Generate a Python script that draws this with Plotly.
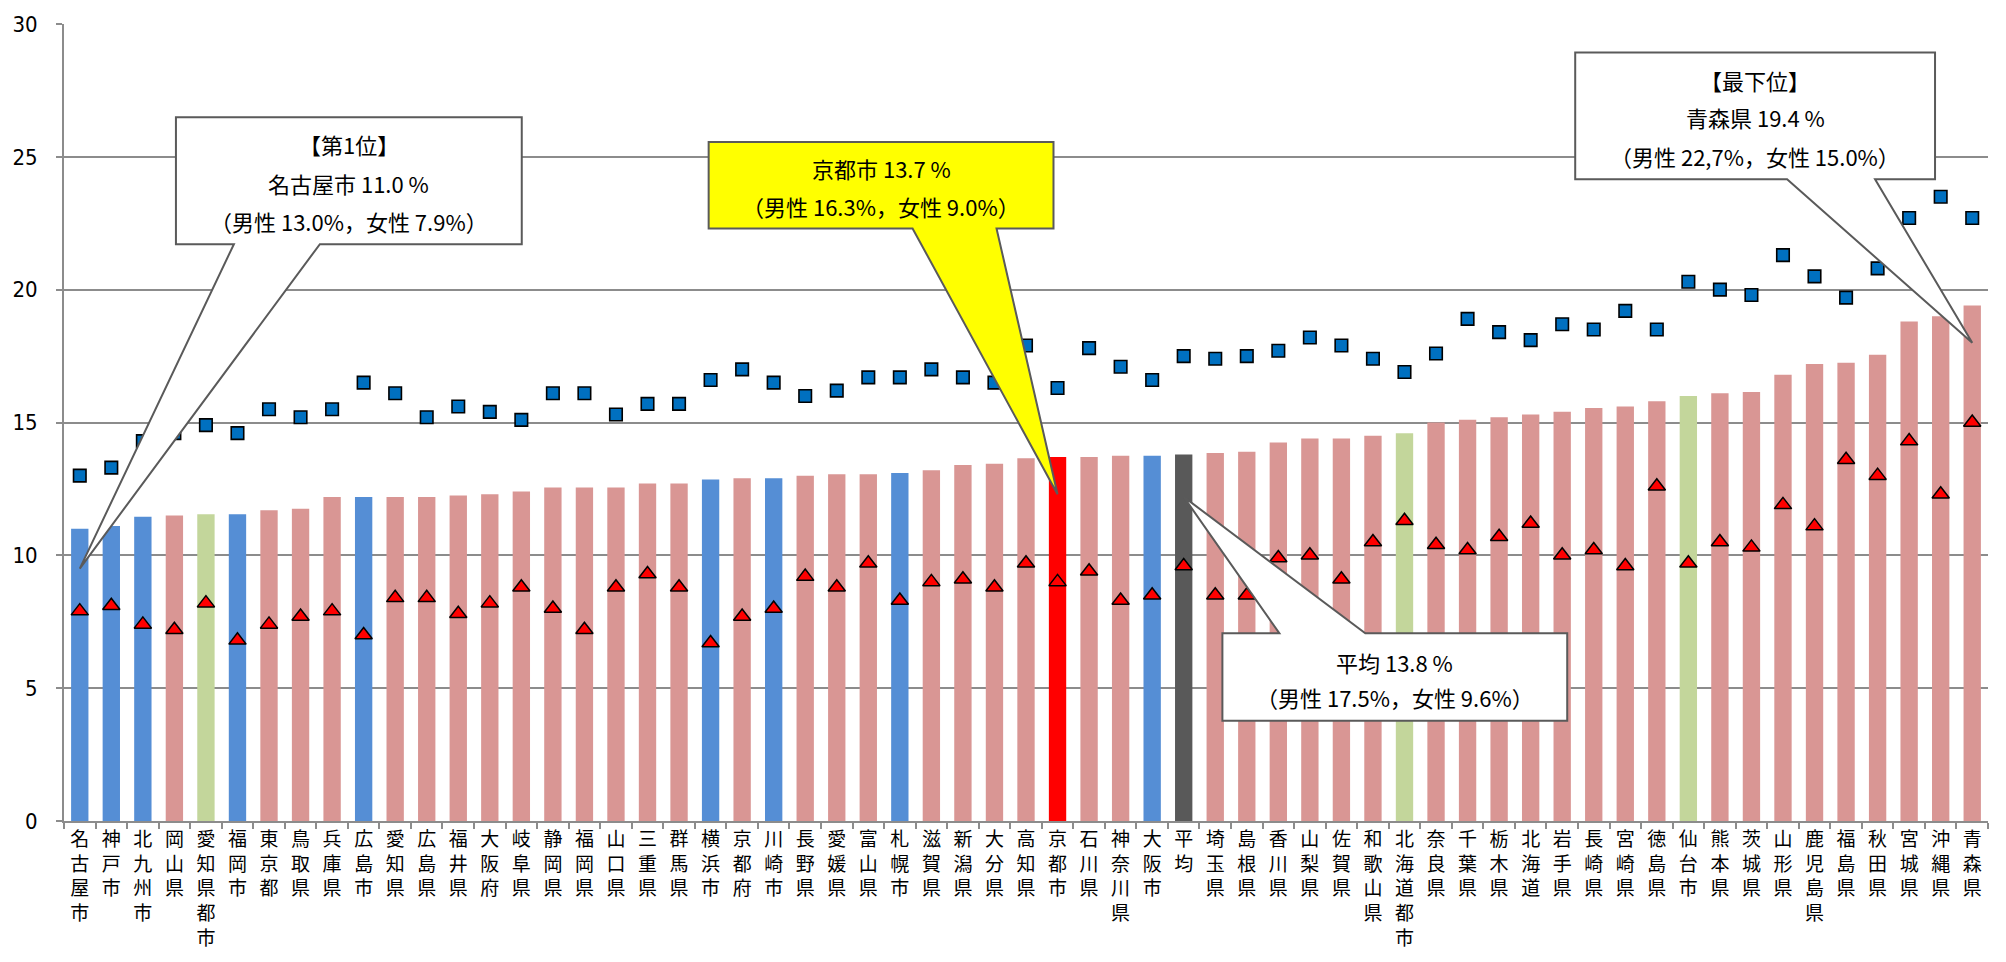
import plotly.graph_objects as go

# ---------------- data ----------------
categories = ["名古屋市","神戸市","北九州市","岡山県","愛知県都市","福岡市","東京都","鳥取県","兵庫県","広島市",
              "愛知県","広島県","福井県","大阪府","岐阜県","静岡県","福岡県","山口県","三重県","群馬県",
              "横浜市","京都府","川崎市","長野県","愛媛県","富山県","札幌市","滋賀県","新潟県","大分県",
              "高知県","京都市","石川県","神奈川県","大阪市","平均","埼玉県","島根県","香川県","山梨県",
              "佐賀県","和歌山県","北海道都市","奈良県","千葉県","栃木県","北海道","岩手県","長崎県","宮崎県",
              "徳島県","仙台市","熊本県","茨城県","山形県","鹿児島県","福島県","秋田県","宮城県","沖縄県","青森県"]

total = [11.0,11.1,11.45,11.5,11.55,11.55,11.7,11.75,12.2,12.2,
         12.2,12.2,12.25,12.3,12.4,12.55,12.55,12.55,12.7,12.7,
         12.85,12.9,12.9,13.0,13.05,13.05,13.1,13.2,13.4,13.45,
         13.65,13.7,13.7,13.75,13.75,13.8,13.85,13.9,14.25,14.4,
         14.4,14.5,14.6,15.0,15.1,15.2,15.3,15.4,15.55,15.6,
         15.8,16.0,16.1,16.15,16.8,17.2,17.25,17.55,18.8,19.0,19.4]

male = [13.0,13.3,14.3,14.6,14.9,14.6,15.5,15.2,15.5,16.5,
        16.1,15.2,15.6,15.4,15.1,16.1,16.1,15.3,15.7,15.7,
        16.6,17.0,16.5,16.0,16.2,16.7,16.7,17.0,16.7,16.5,
        17.9,16.3,17.8,17.1,16.6,17.5,17.4,17.5,17.7,18.2,
        17.9,17.4,16.9,17.6,18.9,18.4,18.1,18.7,18.5,19.2,
        18.5,20.3,20.0,19.8,21.3,20.5,19.7,20.8,22.7,23.5,22.7]

female = [7.9,8.1,7.4,7.2,8.2,6.8,7.4,7.7,7.9,7.0,
          8.4,8.4,7.8,8.2,8.8,8.0,7.2,8.8,9.3,8.8,
          6.7,7.7,8.0,9.2,8.8,9.7,8.3,9.0,9.1,8.8,
          9.7,9.0,9.4,8.3,8.5,9.6,8.5,8.5,9.9,10.0,
          9.1,10.5,11.3,10.4,10.2,10.7,11.2,10.0,10.2,9.6,
          12.6,9.7,10.5,10.3,11.9,11.1,13.6,13.0,14.3,12.3,15.0]

# category grouping: city / metro area / highlighted / average / prefecture
groups = ["city","city","city","pref","metro","city","pref","pref","pref","city",
          "pref","pref","pref","pref","pref","pref","pref","pref","pref","pref",
          "city","pref","city","pref","pref","pref","city","pref","pref","pref",
          "pref","kyoto","pref","pref","city","avg","pref","pref","pref","pref",
          "pref","pref","metro","pref","pref","pref","pref","pref","pref","pref",
          "pref","metro","pref","pref","pref","pref","pref","pref","pref","pref","pref"]

y_ticks = [0, 5, 10, 15, 20, 25, 30]

# ---------------- styling ----------------
group_colors = {"city": "#558ED5", "pref": "#D99694", "metro": "#C3D69B",
                "kyoto": "#FF0000", "avg": "#595959"}
bar_colors = [group_colors[g] for g in groups]
tick_text = ["<br>".join(list(c)) for c in categories]

W_FIG, H_FIG = 2006, 962
L, R, T, B = 63, 1988, 18, 829
YMAX = 30
N = len(categories)
GRID = "#8C8C8C"
JP = "Noto Sans CJK JP, Noto Sans, sans-serif"

fig = go.Figure()
fig.add_trace(go.Bar(x=categories, y=total, marker=dict(color=bar_colors, line=dict(width=0)),
                     hoverinfo="x+y", showlegend=False))
fig.add_trace(go.Scatter(x=categories, y=male, mode="markers", showlegend=False,
                         marker=dict(symbol="square", size=12.5, color="#0070C0",
                                     line=dict(color="#000000", width=1.6))))
fig.add_trace(go.Scatter(x=categories, y=female, mode="markers", showlegend=False,
                         marker=dict(symbol="triangle-up", size=15, color="#FF0000",
                                     line=dict(color="#000000", width=1.5))))

def pxx(x):
    return (x - L) / (R - L)

def pxy(y):
    return (B - y) / (B - T)

def dx(i):
    return (i + 0.5) / N

def dy(v):
    return v / YMAX

callouts = [
    dict(box=(175, 113, 521, 242), base=(233, 319), side="bottom", tip=(0, 9.5), fill="#FFFFFF",
         lines=[("【第1位】", 140), ("名古屋市 11.0 %", 180), ("（男性 13.0%，女性 7.9%）", 218)]),
    dict(box=(708, 138, 1053, 226), base=(912, 996), side="bottom", tip=(31, 12.3), fill="#FFFF00",
         lines=[("京都市 13.7 %", 165), ("（男性 16.3%，女性 9.0%）", 203)]),
    dict(box=(1222, 638, 1567, 727), base=(1279, 1365), side="top", tip=(35, 12.2), fill="#FFFFFF",
         lines=[("平均 13.8 %", 667), ("（男性 17.5%，女性 9.6%）", 703)]),
    dict(box=(1575, 47, 1935, 176), base=(1787, 1875), side="bottom", tip=(60, 18.0), fill="#FFFFFF",
         lines=[("【最下位】", 75), ("青森県 19.4 %", 113), ("（男性 22,7%，女性 15.0%）", 152)]),
]

shapes = []
annotations = []
for c in callouts:
    x0, y0, x1, y1 = c["box"]
    b0, b1 = c["base"]
    tx, ty = dx(c["tip"][0]), dy(c["tip"][1])
    if c["side"] == "bottom":
        pts = [(pxx(x0), pxy(y0)), (pxx(x1), pxy(y0)), (pxx(x1), pxy(y1)), (pxx(b1), pxy(y1)),
               (tx, ty), (pxx(b0), pxy(y1)), (pxx(x0), pxy(y1))]
    else:
        pts = [(pxx(x0), pxy(y0)), (pxx(b0), pxy(y0)), (tx, ty), (pxx(b1), pxy(y0)),
               (pxx(x1), pxy(y0)), (pxx(x1), pxy(y1)), (pxx(x0), pxy(y1))]
    path = "M " + " L ".join(f"{a:.5f},{b:.5f}" for a, b in pts) + " Z"
    shapes.append(dict(type="path", xref="paper", yref="paper", path=path, layer="above",
                       fillcolor=c["fill"], line=dict(color="#5A5A5A", width=2)))
    cx = (x0 + x1) / 2
    for text, yy in c["lines"]:
        annotations.append(dict(xref="paper", yref="paper", x=pxx(cx), y=pxy(yy), text=text,
                                showarrow=False, xanchor="center", yanchor="middle",
                                font=dict(family=JP, size=22, color="#000000")))

fig.update_layout(
    width=W_FIG, height=H_FIG,
    margin=dict(l=L, r=W_FIG - R, t=T, b=H_FIG - B, pad=0),
    paper_bgcolor="#FFFFFF", plot_bgcolor="#FFFFFF",
    bargap=0.45,
    shapes=shapes, annotations=annotations,
    font=dict(family=JP, color="#000000"),
    xaxis=dict(type="category", tickmode="array", tickvals=categories, ticktext=tick_text,
               tickson="boundaries", ticks="outside", ticklen=6, tickwidth=2, tickcolor=GRID,
               showline=True, linecolor=GRID, linewidth=2, showgrid=False, fixedrange=True,
               range=[-0.5, N - 0.5], tickangle=0,
               tickfont=dict(family=JP, size=19, color="#000000")),
    yaxis=dict(range=[0, YMAX], tickmode="array", tickvals=y_ticks, ticktext=[str(v) for v in y_ticks],
               ticks="outside", ticklen=6, tickwidth=2, tickcolor=GRID,
               showline=True, linecolor=GRID, linewidth=2,
               showgrid=True, gridcolor=GRID, gridwidth=2, zeroline=False,
               ticklabelstandoff=14, fixedrange=True,
               tickfont=dict(family="Liberation Sans Narrow, DejaVu Sans Condensed, Arial Narrow, sans-serif",
                             size=22, color="#000000")),
)

fig.write_html("out.html", config={"displayModeBar": False},
               post_script="document.body.style.margin='0px';")
